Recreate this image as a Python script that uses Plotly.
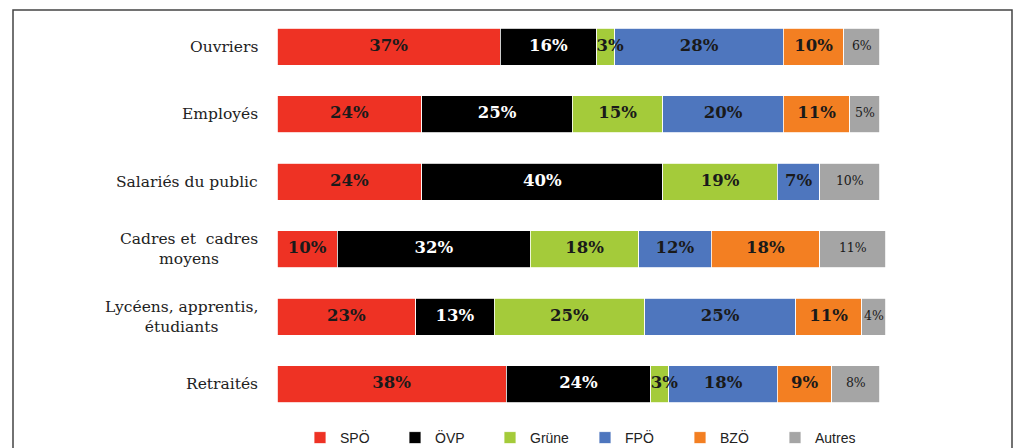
import plotly.graph_objects as go

categories = ["Ouvriers", "Employés", "Salariés du public", "Cadres et  cadres<br>moyens",
              "Lycéens, apprentis,<br>étudiants", "Retraités"]
parties = ["SPÖ", "ÖVP", "Grüne", "FPÖ", "BZÖ", "Autres"]
spo = [37, 24, 24, 10, 23, 38]
ovp = [16, 25, 40, 32, 13, 24]
grune = [3, 15, 19, 18, 25, 3]
fpo = [28, 20, 7, 12, 25, 18]
bzo = [10, 11, 0, 18, 11, 9]
autres = [6, 5, 10, 11, 4, 8]
series = [spo, ovp, grune, fpo, bzo, autres]

colors = ["#EE3224", "#000000", "#A4CB3A", "#4E76BE", "#F37F22", "#A5A5A5"]
text_colors = ["#1a1a1a", "#ffffff", "#1a1a1a", "#1a1a1a", "#1a1a1a", "#1a1a1a"]

W, H = 1019, 448
L, R, T, B = 277, 127, 13, 30
plot_h = H - T - B
plot_w = W - L - R


def px_to_paper_x(px):
    return (px - L) / plot_w


def px_to_paper_y(py):
    return (H - B - py) / plot_h


fig = go.Figure()
for name, vals, col in zip(parties, series, colors):
    fig.add_trace(go.Bar(
        y=categories, x=vals, name=name, orientation="h",
        marker=dict(color=col, line=dict(color="white", width=0.8)),
        hoverinfo="skip",
    ))

# value labels, drawn above all bars
starts = [0] * len(categories)
for name, vals, tcol in zip(parties, series, text_colors):
    small = name == "Autres"
    xs, ys, txt, pos = [], [], [], []
    for i, v in enumerate(vals):
        if v:
            narrow = v < 4 and not small
            xs.append(starts[i] if narrow else starts[i] + v / 2)
            pos.append("middle right" if narrow else "middle center")
            ys.append(categories[i])
            txt.append(f"{v}%")
        starts[i] += v
    fig.add_trace(go.Scatter(
        x=xs, y=ys, text=txt, mode="text", textposition=pos,
        textfont=dict(family="DejaVu Serif", size=12.5 if small else 16.5,
                      color=tcol, weight="normal" if small else "bold"),
        showlegend=False, hoverinfo="skip", cliponaxis=False,
    ))

annotations = []
for c in categories:
    annotations.append(dict(
        x=0, xref="paper", xshift=-17, xanchor="right", y=c, yref="y",
        text=c, showarrow=False, align="center",
        font=dict(family="DejaVu Serif", size=15.5, color="#222222"),
    ))

fig.update_layout(
    width=W, height=H,
    margin=dict(l=L, r=R, t=T, b=B, autoexpand=False),
    barmode="stack", bargap=0.45,
    plot_bgcolor="white", paper_bgcolor="white",
    xaxis=dict(range=[0, 102], visible=False, fixedrange=True),
    yaxis=dict(autorange="reversed", showticklabels=False, showgrid=False,
               zeroline=False, showline=False, ticks="", fixedrange=True),
    showlegend=True,
    legend=dict(orientation="h", x=px_to_paper_x(300), xanchor="left",
                y=px_to_paper_y(438), yanchor="middle",
                font=dict(family="Liberation Sans", size=14, color="#222222"),
                itemwidth=30, entrywidth=50, entrywidthmode="pixels",
                traceorder="normal", bgcolor="rgba(0,0,0,0)",
                tracegroupgap=0),
    annotations=annotations,
    shapes=[dict(type="rect", xref="paper", yref="paper",
                 x0=px_to_paper_x(13), x1=px_to_paper_x(1012),
                 y0=px_to_paper_y(470), y1=px_to_paper_y(10),
                 line=dict(color="#444444", width=1.5), layer="below")],
)

fig.write_html("out.html", config={"displayModeBar": False},
               post_script="document.body.style.margin='0';document.body.style.overflow='hidden';")
